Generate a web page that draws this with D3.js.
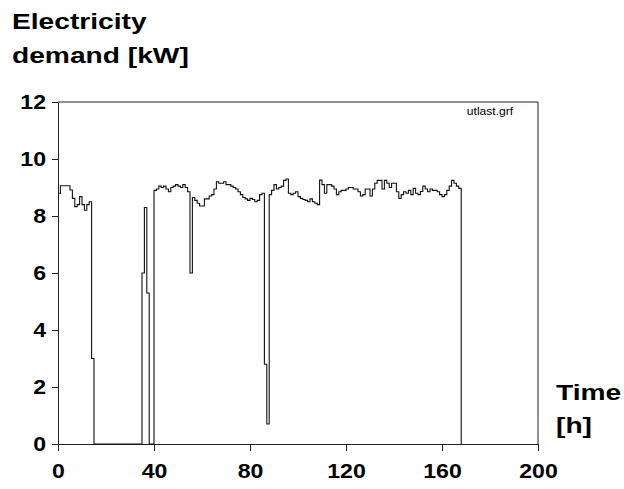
<!DOCTYPE html>
<html>
<head>
<meta charset="utf-8">
<script src="https://cdn.jsdelivr.net/npm/d3@7"></script>
<style>
  html, body { margin: 0; padding: 0; background: #fff; }
  svg { display: block; }
  text { font-family: "Liberation Sans", Arial, sans-serif; }
</style>
</head>
<body>
<svg id="chart" width="624" height="489"></svg>
<script>
// Hourly electricity demand [kW], hour 0 .. 167
const demand = [
  8.8, 9.06, 9.06, 9.06, 9.06, 8.91, 8.62, 8.33, 8.4, 8.68,
  8.4, 8.2, 8.4, 8.5, 3.0, 0, 0, 0, 0, 0,
  0, 0, 0, 0, 0, 0, 0, 0, 0, 0,
  0, 0, 0, 0, 0, 6.0, 8.3, 5.3, 0, 0,
  8.9, 8.95, 9.05, 9.0, 9.05, 8.95, 8.85, 9.0, 9.05, 9.1,
  9.05, 9.0, 9.1, 9.0, 8.85, 6.0, 8.65, 8.55, 8.45, 8.35,
  8.35, 8.6, 8.6, 8.7, 8.75, 8.95, 9.2, 9.15, 9.15, 9.2,
  9.1, 9.1, 9.05, 9.0, 8.95, 8.85, 8.75, 8.65, 8.6, 8.55,
  8.62, 8.58, 8.5, 8.55, 8.75, 8.8, 2.8, 0.7, 8.75, 8.9,
  9.1, 8.95, 9.0, 9.05, 9.25, 9.3, 8.8, 8.75, 8.8, 8.85,
  8.68, 8.62, 8.58, 8.55, 8.5, 8.6, 8.5, 8.45, 8.4, 9.26,
  9.1, 8.8, 9.1, 9.1, 9.05, 8.95, 8.75, 8.85, 8.9, 8.9,
  8.95, 9.0, 9.0, 8.95, 8.95, 8.85, 8.7, 8.75, 8.95, 8.95,
  8.7, 8.95, 9.15, 9.25, 9.25, 8.95, 9.25, 9.15, 9.0, 9.15,
  9.15, 8.85, 8.62, 8.75, 8.85, 8.8, 8.9, 8.75, 8.97, 8.8,
  8.75, 8.86, 9.05, 8.95, 8.85, 8.95, 8.9, 8.9, 8.85, 8.75,
  8.68, 8.75, 8.9, 9.05, 9.25, 9.15, 9.05, 8.97
];
const xTicks = [0, 40, 80, 120, 160, 200];
const yTicks = [0, 2, 4, 6, 8, 10, 12];
const yTitle = ["Electricity", "demand [kW]"];
const xTitle = ["Time", "[h]"];
const fileLabel = "utlast.grf";

const svg = d3.select("#chart");
const mLeft = 58, mRight = 538, mTop = 102, mBottom = 444;

const x = d3.scaleLinear().domain([0, 200]).range([mLeft, mRight]);
const y = d3.scaleLinear().domain([0, 12]).range([mBottom, mTop]);

function stretch(sel, factor) {
  sel.each(function () {
    const w = this.getComputedTextLength();
    d3.select(this).attr("textLength", w * factor).attr("lengthAdjust", "spacingAndGlyphs");
  });
}

// frame (top + right)
svg.append("path")
  .attr("d", `M${mLeft},${mTop}H${mRight}V${mBottom}`)
  .attr("fill", "none").attr("stroke", "#222").attr("stroke-width", 1);

// axes
const yAxis = svg.append("g").attr("transform", `translate(${mLeft},0)`)
  .call(d3.axisLeft(y).tickValues(yTicks).tickSize(6).tickSizeOuter(0).tickPadding(6).tickFormat(d3.format("d")));
const xAxis = svg.append("g").attr("transform", `translate(0,${mBottom})`)
  .call(d3.axisBottom(x).tickValues(xTicks).tickSize(7).tickSizeOuter(0).tickPadding(12).tickFormat(d3.format("d")));

[yAxis, xAxis].forEach(g => {
  g.select(".domain").attr("stroke", "#222");
  g.selectAll(".tick line").attr("stroke", "#222");
  g.selectAll(".tick text")
    .attr("fill", "#000")
    .style("font-size", "21px")
    .style("font-weight", "bold")
    .style("font-family", "'Liberation Sans', Arial, sans-serif")
    .call(stretch, 1.1);
});

// step line
const pts = demand.map((v, i) => [i, v]);
pts.push([demand.length, demand[demand.length - 1]]);
pts.push([demand.length, 0]);
const line = d3.line()
  .x(d => x(d[0]))
  .y(d => y(d[1]))
  .curve(d3.curveStepAfter);
svg.append("path")
  .datum(pts)
  .attr("d", line)
  .attr("fill", "none")
  .attr("stroke", "#111")
  .attr("stroke-width", 1.1);

// titles
svg.append("g").selectAll("text").data(yTitle).join("text")
  .attr("x", 12).attr("y", (d, i) => 29 + i * 34)
  .style("font-size", "22px").style("font-weight", "bold")
  .attr("fill", "#000").text(d => d)
  .call(stretch, 1.28);

svg.append("g").selectAll("text").data(xTitle).join("text")
  .attr("x", 556).attr("y", (d, i) => 400 + i * 33)
  .style("font-size", "22px").style("font-weight", "bold")
  .attr("fill", "#000").text(d => d)
  .call(stretch, 1.28);

svg.append("text")
  .attr("x", 490).attr("y", 115)
  .attr("text-anchor", "middle")
  .style("font-size", "11px")
  .attr("fill", "#000").text(fileLabel)
  .call(stretch, 1.1);
</script>
</body>
</html>
